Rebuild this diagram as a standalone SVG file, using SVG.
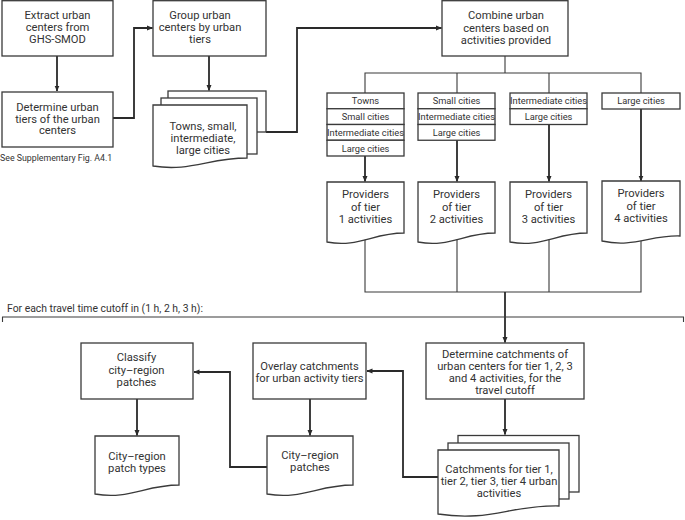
<svg xmlns="http://www.w3.org/2000/svg" width="685" height="520" viewBox="0 0 685 520">
<style>
.box{fill:#fff;stroke:#3a3a3a;stroke-width:1.3}
.t{font-family:Roboto,"Liberation Sans",sans-serif;font-size:11.2px;fill:#333;text-anchor:middle}
.s{font-family:Roboto,"Liberation Sans",sans-serif;font-size:9.3px;fill:#333;text-anchor:middle}
.c{font-family:Roboto,"Liberation Sans",sans-serif;fill:#333}
.arr{fill:none;stroke:#2a2a2a;stroke-width:1.8;marker-end:url(#ah)}
.ln{fill:none;stroke:#3a3a3a;stroke-width:1.1}
</style>
<defs>
<marker id="ah" viewBox="0 0 6 6" refX="5.5" refY="3" markerWidth="6" markerHeight="6" markerUnits="userSpaceOnUse" orient="auto">
<path d="M0,0.5 L6,3 L0,5.5 Z" fill="#2a2a2a"/>
</marker>
</defs>
<rect width="685" height="520" fill="#fff"/>
<g id="connectors">
<path class="arr" d="M57,56 V91"/>
<path class="arr" d="M113,118 H134 V28 H152.5"/>
<path class="arr" d="M209,56 V90.5"/>
<path class="arr" d="M266,132 H297 V28 H441.5"/>
<path class="ln" d="M505,56 V73 M365,93 V73 H641 V93 M457,73 V93 M549,73 V93"/>
<path class="arr" d="M365,156 V181.5"/>
<path class="arr" d="M457,140 V181.5"/>
<path class="arr" d="M549,124.5 V181.5"/>
<path class="arr" d="M641,109 V181"/>
<path class="ln" d="M365,236 V292 H641 V236 M457,236 V292 M549,236 V292"/>
<path class="arr" d="M505,292 V342.5"/>
<path class="arr" d="M505,399 V434.5"/>
<path class="arr" d="M438,477 H403 V371 H367"/>
<path class="arr" d="M310,399 V435.5"/>
<path class="arr" d="M267,467 H230 V372 H194"/>
<path class="arr" d="M137,399 V435.5"/>
</g>
<g id="brace">
<path class="ln" d="M2.5,322 V317 H683.5 V322"/>
<text class="c" x="7" y="311.5" font-size="10.4">For each travel time cutoff in (1 h, 2 h, 3 h):</text>
</g>
<g id="extract">
<rect class="box" x="2" y="0.7" width="111" height="55.3"/>
<text class="t" x="57.5" y="19">Extract urban</text>
<text class="t" x="57.5" y="31">centers from</text>
<text class="t" x="57.5" y="43">GHS-SMOD</text>
</g>
<g id="determine-tiers">
<rect class="box" x="2" y="92" width="111" height="55"/>
<text class="t" x="57.5" y="110.5">Determine urban</text>
<text class="t" x="57.5" y="122.5">tiers of the urban</text>
<text class="t" x="57.5" y="134">centers</text>
<text class="c" x="0" y="161" font-size="8.8">See Supplementary Fig. A4.1</text>
</g>
<g id="group">
<rect class="box" x="153" y="0.7" width="113" height="55.3"/>
<text class="t" x="200" y="19">Group urban</text>
<text class="t" x="200" y="31">centers by urban</text>
<text class="t" x="200" y="43">tiers</text>
</g>
<g id="tiers-doc">
<rect class="box" x="168" y="91" width="98" height="41"/>
<rect class="box" x="161" y="98" width="96" height="56"/>
<path class="box" d="M153,105 H247 V158 C209,158 190,172 153,166 Z"/>
<text class="t" x="203" y="130">Towns, small,</text>
<text class="t" x="203" y="142">intermediate,</text>
<text class="t" x="203" y="153.5">large cities</text>
</g>
<g id="combine">
<rect class="box" x="442" y="0.7" width="126" height="55.3"/>
<text class="t" x="506" y="19">Combine urban</text>
<text class="t" x="506" y="31.5">centers based on</text>
<text class="t" x="506" y="43.5">activities provided</text>
</g>
<g id="list1">
<rect class="box" x="327" y="93" width="77" height="15.75"/>
<rect class="box" x="327" y="108.75" width="77" height="15.75"/>
<rect class="box" x="327" y="124.5" width="77" height="15.75"/>
<rect class="box" x="327" y="140.25" width="77" height="15.75"/>
<text class="s" x="365.5" y="104.3">Towns</text>
<text class="s" x="365.5" y="120">Small cities</text>
<text class="s" x="365.5" y="135.8">Intermediate cities</text>
<text class="s" x="365.5" y="151.5">Large cities</text>
</g>
<g id="list2">
<rect class="box" x="418" y="93" width="77" height="15.75"/>
<rect class="box" x="418" y="108.75" width="77" height="15.75"/>
<rect class="box" x="418" y="124.5" width="77" height="15.75"/>
<text class="s" x="456.5" y="104.3">Small cities</text>
<text class="s" x="456.5" y="120">Intermediate cities</text>
<text class="s" x="456.5" y="135.8">Large cities</text>
</g>
<g id="list3">
<rect class="box" x="510" y="93" width="77" height="15.75"/>
<rect class="box" x="510" y="108.75" width="77" height="15.75"/>
<text class="s" x="548.5" y="104.3">Intermediate cities</text>
<text class="s" x="548.5" y="120">Large cities</text>
</g>
<g id="list4">
<rect class="box" x="602" y="93" width="78" height="16"/>
<text class="s" x="641" y="104.3">Large cities</text>
</g>
<g id="providers1">
<path class="box" d="M327,182 H404 V233 C373,233 358,248 327,242 Z"/>
<text class="t" x="365.5" y="198">Providers</text>
<text class="t" x="365.5" y="210.5">of tier</text>
<text class="t" x="365.5" y="223">1 activities</text>
</g>
<g id="providers2">
<path class="box" d="M418,182 H495 V233 C464,233 449,248 418,242 Z"/>
<text class="t" x="456.5" y="198">Providers</text>
<text class="t" x="456.5" y="210.5">of tier</text>
<text class="t" x="456.5" y="223">2 activities</text>
</g>
<g id="providers3">
<path class="box" d="M510,182 H587 V233 C556,233 541,248 510,242 Z"/>
<text class="t" x="548.5" y="198">Providers</text>
<text class="t" x="548.5" y="210.5">of tier</text>
<text class="t" x="548.5" y="223">3 activities</text>
</g>
<g id="providers4">
<path class="box" d="M602,181 H680 V236 C650,235 634,248 602,241 Z"/>
<text class="t" x="641" y="197">Providers</text>
<text class="t" x="641" y="209.5">of tier</text>
<text class="t" x="641" y="222">4 activities</text>
</g>
<g id="catchments-step">
<rect class="box" x="426" y="343" width="158" height="56"/>
<text class="t" x="505" y="358">Determine catchments of</text>
<text class="t" x="505" y="370">urban centers for tier 1, 2, 3</text>
<text class="t" x="505" y="382">and 4 activities, for the</text>
<text class="t" x="505" y="394">travel cutoff</text>
</g>
<g id="catchments-doc">
<rect class="box" x="458" y="435.5" width="121" height="56.5"/>
<rect class="box" x="448" y="443" width="121" height="56"/>
<path class="box" d="M438,450 H559 V506 C510,505 490,522 438,514 Z"/>
<text class="t" x="499" y="473">Catchments for tier 1,</text>
<text class="t" x="499" y="485">tier 2, tier 3, tier 4 urban</text>
<text class="t" x="499" y="497">activities</text>
</g>
<g id="overlay">
<rect class="box" x="253" y="343" width="113" height="56"/>
<text class="t" x="309.5" y="370">Overlay catchments</text>
<text class="t" x="309.5" y="381.5">for urban activity tiers</text>
</g>
<g id="patches-doc">
<path class="box" d="M267,436 H353 V485 C318,485 302,500 267,494 Z"/>
<text class="t" x="310" y="459">City–region</text>
<text class="t" x="310" y="471">patches</text>
</g>
<g id="classify">
<rect class="box" x="81" y="343" width="112" height="56"/>
<text class="t" x="136.5" y="361">Classify</text>
<text class="t" x="136.5" y="373.5">city–region</text>
<text class="t" x="136.5" y="385.5">patches</text>
</g>
<g id="patch-types-doc">
<path class="box" d="M95,436 H179 V485 C145,485 129,500 95,494 Z"/>
<text class="t" x="137" y="460">City–region</text>
<text class="t" x="137" y="471.5">patch types</text>
</g>
</svg>
